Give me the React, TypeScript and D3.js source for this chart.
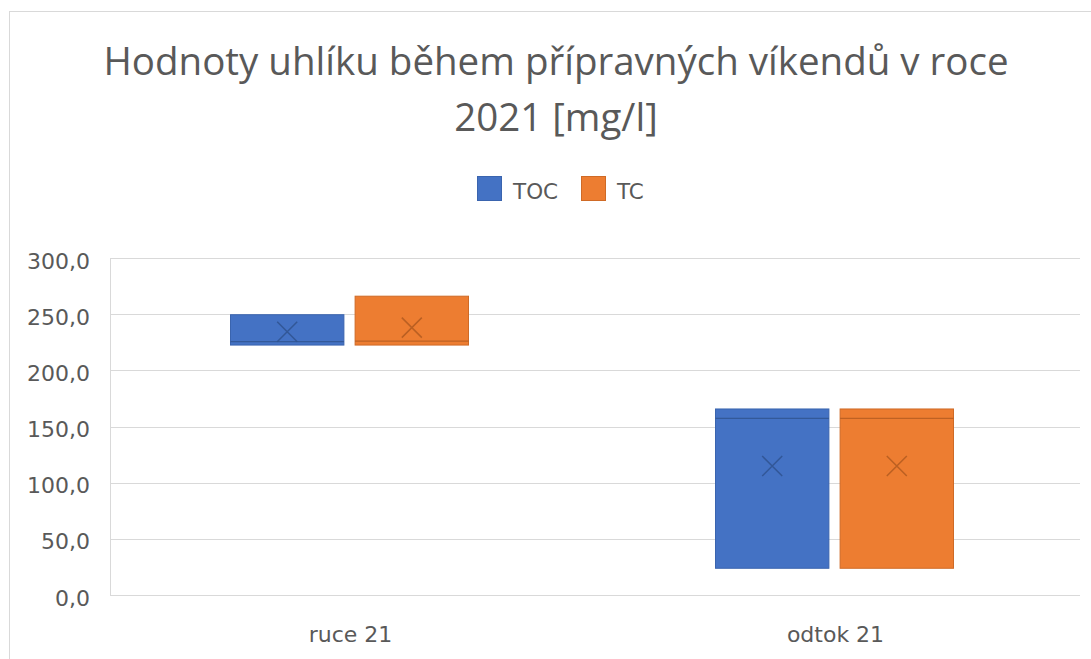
import React from "react";
import * as d3 from "d3";

const categories = ["ruce 21", "odtok 21"];
const seriesNames = ["TOC", "TC"];
const seriesColors = ["#4472C4", "#ED7D31"];
const seriesStroke = ["#3A64AE", "#CF6A26"];
const seriesDark = ["#2F528F", "#B25A20"];
// per series, per category
const minVals = [[222.5, 23.8], [222.5, 23.8]];
const q1Vals = [[222.5, 23.8], [222.5, 23.8]];
const medianVals = [[225.5, 157.3], [226.0, 157.3]];
const q3Vals = [[249.5, 165.6], [266.0, 165.6]];
const maxVals = [[249.5, 165.6], [266.0, 165.6]];
const meanVals = [[234.4, 114.8], [238.0, 114.8]];
const yTicks = [0, 50, 100, 150, 200, 250, 300];

const W = 1091;
const H = 659;
const plot = { left: 110, right: 1080, top: 258, bottom: 595 };
const titleFont = "'Open Sans', 'Noto Sans', sans-serif";
const font = "'DejaVu Sans', sans-serif";

export default function App() {
  const y = d3.scaleLinear().domain([0, 300]).range([plot.bottom, plot.top]);
  const x0 = d3.scaleBand().domain(categories).range([plot.left, plot.right]);
  const x1 = d3.scaleBand().domain(seriesNames).range([0, 238]).paddingInner(0.09);
  const fmt = (v: number) => d3.format(".1f")(v).replace(".", ",");

  return (
    <svg width={W} height={H} style={{ position: "absolute", left: 0, top: 0, background: "#fff" }}>
      <rect x={9.5} y={11.5} width={W + 10} height={H + 10} fill="#fff" stroke="#D9D9D9" />
      <text x={556} y={75} textAnchor="middle" fontFamily={titleFont} fontSize={38.5} fill="#595959">
        Hodnoty uhlíku během přípravných víkendů v roce
      </text>
      <text x={556} y={131} textAnchor="middle" fontFamily={titleFont} fontSize={38.5} fill="#595959">
        2021 [mg/l]
      </text>
      {seriesNames.map((s, i) => {
        const lx = [477, 581][i];
        return (
          <g key={s}>
            <rect x={lx + 0.5} y={176.5} width={24} height={24} fill={seriesColors[i]} stroke={seriesStroke[i]} />
            <text x={lx + 36} y={199} fontFamily={font} fontSize={21.5} fill="#595959">{s}</text>
          </g>
        );
      })}
      {yTicks.map((t) => (
        <g key={t}>
          <line x1={plot.left} x2={plot.right} y1={Math.round(y(t)) + 0.5} y2={Math.round(y(t)) + 0.5} stroke="#D9D9D9" />
          <text x={90} y={y(t) + 10.5} textAnchor="end" fontFamily={font} fontSize={22} fill="#595959">{fmt(t)}</text>
        </g>
      ))}
      <line x1={plot.left + 0.5} x2={plot.left + 0.5} y1={plot.top} y2={plot.bottom} stroke="#D9D9D9" />
      {categories.map((c, ci) => {
        const cx = x0(c)! + x0.bandwidth() / 2;
        const start = cx - 238 / 2 - 3;
        return (
          <g key={c}>
            <text x={cx - 2} y={642} textAnchor="middle" fontFamily={font} fontSize={22} fill="#595959">{c}</text>
            {seriesNames.map((s, si) => {
              const bx = start + x1(s)!;
              const bw = x1.bandwidth();
              const mx = bx + bw / 2;
              const my = y(meanVals[si][ci]);
              return (
                <g key={s}>
                  <line x1={mx} x2={mx} y1={y(maxVals[si][ci])} y2={y(q3Vals[si][ci])} stroke={seriesStroke[si]} />
                  <line x1={mx} x2={mx} y1={y(q1Vals[si][ci])} y2={y(minVals[si][ci])} stroke={seriesStroke[si]} />
                  <rect x={bx} y={y(q3Vals[si][ci])} width={bw} height={y(q1Vals[si][ci]) - y(q3Vals[si][ci])}
                    fill={seriesColors[si]} stroke={seriesStroke[si]} strokeWidth={1} />
                  <line x1={bx} x2={bx + bw} y1={y(medianVals[si][ci])} y2={y(medianVals[si][ci])} stroke={seriesDark[si]} strokeWidth={1.2} strokeOpacity={0.8} />
                  <path d={`M${mx - 10},${my - 10}L${mx + 10},${my + 10}M${mx - 10},${my + 10}L${mx + 10},${my - 10}`}
                    stroke={seriesDark[si]} strokeWidth={1.5} strokeOpacity={0.85} fill="none" />
                </g>
              );
            })}
          </g>
        );
      })}
    </svg>
  );
}
